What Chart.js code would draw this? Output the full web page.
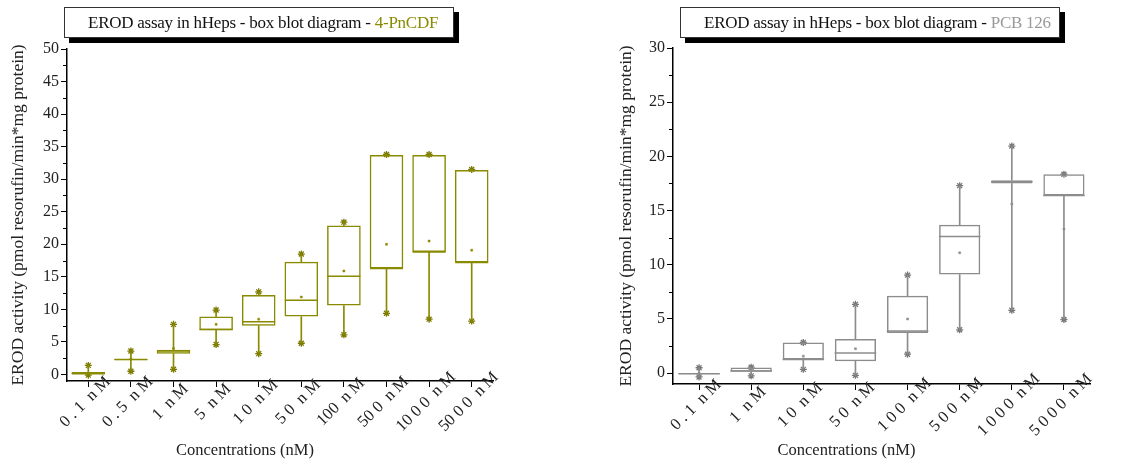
<!DOCTYPE html>
<html>
<head>
<meta charset="utf-8">
<script src="https://cdn.jsdelivr.net/npm/chart.js@4/dist/chart.umd.min.js"></script>
<style>
  body { margin: 0; background: #fff; width: 1139px; height: 464px; overflow: hidden; position: relative; font-family: "Liberation Serif", serif; }
  canvas { position: absolute; top: 0; }
  #leftChart { left: 0; }
  #rightChart { left: 570px; }
  .ttl { position: absolute; top: 7px; height: 29px; border: 1px solid #333; background: #fff;
         box-shadow: 5px 5px 0 #000; font-size: 17px; letter-spacing: -0.25px; line-height: 29px; color: #111; white-space: nowrap; box-sizing: content-box; }
</style>
</head>
<body>
<canvas id="leftChart" width="570" height="464"></canvas>
<canvas id="rightChart" width="569" height="464"></canvas>
<div class="ttl" id="ttlLeft" style="left:64px; width:365px; padding-left:23px;">EROD assay in hHeps - box blot diagram - <span style="color:#8a8a00">4-PnCDF</span></div>
<div class="ttl" id="ttlRight" style="left:680px; width:355px; padding-left:23px;">EROD assay in hHeps - box blot diagram - <span style="color:#999">PCB 126</span></div>
<script>
// 4-PnCDF data
const pncdfLabels = ['0 . 1  n M', '0 . 5  n M', '1  n M', '5  n M', '1 0  n M', '5 0  n M', '100  n M', '50 0  n M', '10 0 0  n M', '50 0 0  n M'];
const pncdfMin    = [-0.1, 0.5, 0.8, 4.6, 3.2, 4.8, 6.1, 9.4, 8.5, 8.2];
const pncdfQ1     = [0.0, 2.2, 3.2, 6.8, 7.5, 8.9, 10.6, 16.3, 18.8, 17.2];
const pncdfMedian = [0.1, 2.3, 3.6, 6.9, 8.1, 11.4, 15.1, 16.3, 18.8, 17.2];
const pncdfQ3     = [0.4, 2.35, 3.8, 8.9, 12.2, 17.3, 22.9, 33.7, 33.7, 31.4];
const pncdfMax    = [1.4, 3.6, 7.7, 9.9, 12.7, 18.5, 23.4, 33.8, 33.8, 31.5];
const pncdfMean   = [0.2, 2.4, 4.0, 7.7, 8.5, 11.9, 15.9, 20.0, 20.5, 19.1];

// PCB 126 data
const pcbLabels = ['0 . 1  n M', '1  n M', '1 0  n M', '5 0  n M', '1 0 0  n M', '5 0 0  n M', '1 0 0 0  n M', '5 0 0 0  n M'];
const pcbMin    = [-0.35, -0.25, 0.35, -0.2, 1.75, 4.0, 5.8, 4.95];
const pcbQ1     = [-0.1, 0.12, 1.25, 1.1, 3.7, 9.1, 17.5, 16.4];
const pcbMedian = [-0.05, 0.2, 1.25, 1.85, 3.9, 12.6, 17.65, 16.4];
const pcbQ3     = [0.0, 0.52, 2.83, 3.15, 7.15, 13.7, 17.8, 18.35];
const pcbMax    = [0.5, 0.55, 2.83, 6.35, 9.05, 17.3, 20.95, 18.35];
const pcbMean   = [0.0, 0.3, 1.57, 2.25, 5.0, 11.1, 15.6, 13.3];

const yTitle = 'EROD activity (pmol resorufin/min*mg protein)';
const xTitle = 'Concentrations (nM)';
const textColor = '#222';
const fontFamily = '"Liberation Serif", "Times New Roman", serif';

// draws minor y ticks, rotated x labels and the x title
const axisExtras = {
  id: 'axisExtras',
  afterDraw(chart) {
    const ctx = chart.ctx;
    const xs = chart.scales.x, ys = chart.scales.y;
    ctx.save();
    ctx.strokeStyle = '#000';
    ctx.lineWidth = 1;
    for (let v = 2.5; v < ys.max; v += 5) {
      const py = Math.round(ys.getPixelForValue(v)) + 0.5;
      ctx.beginPath();
      ctx.moveTo(xs.left - 4, py);
      ctx.lineTo(xs.left, py);
      ctx.stroke();
    }
    ctx.fillStyle = textColor;
    ctx.font = '16.5px ' + fontFamily;
    ctx.textAlign = 'center';
    ctx.textBaseline = 'middle';
    chart.data.labels.forEach((lab, i) => {
      const px = xs.getPixelForValue(i);
      ctx.save();
      ctx.translate(px - 3, xs.top + 21);
      ctx.rotate(-Math.PI / 4);
      ctx.fillText(lab, 0, 0);
      ctx.restore();
    });
    ctx.font = '16.5px ' + fontFamily;
    ctx.fillText(xTitle, (xs.left + xs.right) / 2 - 35, 451);
    ctx.restore();
  }
};

function makeBoxChart(id, labels, mn, q1, med, q3, mx, mean, color, markColor, yMax, pad, xAxisY, yWidth, halfBox) {
  new Chart(document.getElementById(id), {
    type: 'bar',
    data: {
      labels: labels,
      datasets: [
        {
          label: 'box',
          data: q1.map((v, i) => [v, q3[i]]),
          backgroundColor: 'rgba(0,0,0,0)',
          borderColor: color,
          borderWidth: 1.5,
          borderSkipped: false,
          barPercentage: 0.79,
          categoryPercentage: 1,
          grouped: false
        },
        {
          label: 'lower whisker',
          data: mn.map((v, i) => [v, q1[i]]),
          backgroundColor: color,
          borderWidth: 0,
          barThickness: 1,
          grouped: false
        },
        {
          label: 'upper whisker',
          data: q3.map((v, i) => [v, mx[i]]),
          backgroundColor: color,
          borderWidth: 0,
          barThickness: 1,
          grouped: false
        },
        {
          type: 'line',
          label: 'median',
          data: med,
          showLine: false,
          pointStyle: 'line',
          pointRadius: halfBox,
          pointBorderWidth: 1.5,
          pointBorderColor: color
        },
        {
          type: 'line',
          label: 'mean',
          data: mean,
          showLine: false,
          pointStyle: 'rect',
          pointRadius: 1.4,
          pointBorderWidth: 0.5,
          pointBackgroundColor: color,
          pointBorderColor: color
        },
        {
          type: 'line',
          label: 'min',
          data: mn,
          showLine: false,
          pointStyle: 'star',
          pointRadius: 3.5,
          pointBorderWidth: 1.3,
          pointBorderColor: markColor
        },
        {
          type: 'line',
          label: 'max',
          data: mx,
          showLine: false,
          pointStyle: 'star',
          pointRadius: 3.5,
          pointBorderWidth: 1.3,
          pointBorderColor: markColor
        }
      ]
    },
    options: {
      responsive: false,
      animation: false,
      layout: { padding: pad },
      plugins: {
        legend: { display: false },
        tooltip: { enabled: false },
        title: { display: false }
      },
      scales: {
        x: {
          offset: true,
          grid: { display: true, drawOnChartArea: false, drawTicks: true, tickLength: 6, offset: false, color: '#000' },
          border: { color: '#000', width: 1.5 },
          ticks: { display: false },
          afterFit(scale) { scale.height = 464 - xAxisY; }
        },
        y: {
          min: -1,
          max: yMax,
          grid: { display: true, drawOnChartArea: false, drawTicks: true, tickLength: 6, color: '#000' },
          border: { color: '#000', width: 1.5 },
          ticks: {
            stepSize: 5,
            includeBounds: false,
            padding: 2,
            color: textColor,
            font: { family: fontFamily, size: 16 }
          },
          title: {
            display: true,
            text: yTitle,
            color: textColor,
            font: { family: fontFamily, size: 17.5 },
            padding: { top: 8, bottom: 0 }
          },
          afterFit(scale) { scale.width = yWidth; }
        }
      }
    },
    plugins: [axisExtras]
  });
}

makeBoxChart('leftChart', pncdfLabels, pncdfMin, pncdfQ1, pncdfMedian, pncdfQ3, pncdfMax, pncdfMean,
  '#8a8a00', '#7a7a00', 50, { left: 0, right: 77, top: 49, bottom: 0 }, 381, 67, 16.5);
makeBoxChart('rightChart', pcbLabels, pcbMin, pcbQ1, pcbMedian, pcbQ3, pcbMax, pcbMean,
  '#8c8c8c', '#777', 30, { left: 38, right: 49, top: 48, bottom: 0 }, 384, 65, 20.8);
</script>
</body>
</html>
